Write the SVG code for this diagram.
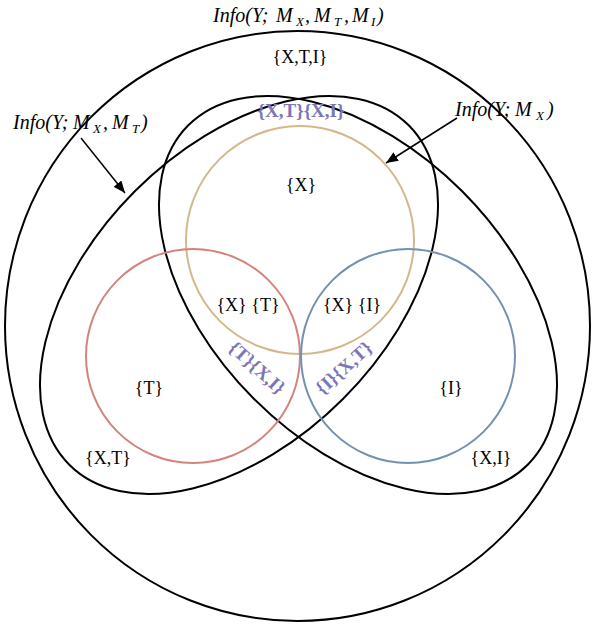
<svg xmlns="http://www.w3.org/2000/svg" width="594" height="627" viewBox="0 0 594 627">
<style>
.blk{fill:none;stroke:#000;stroke-width:2}
.lbl{font-family:"Liberation Serif","Times New Roman",serif;font-size:18px;fill:#000;text-anchor:middle}
.pur{font-family:"Liberation Serif","Times New Roman",serif;font-size:19px;font-weight:bold;fill:#7b76b5;text-anchor:middle}
.math{font-family:"Liberation Serif","Times New Roman",serif;font-size:20px;font-style:italic;fill:#000}
.sub{font-size:13px}
.arr{stroke:#000;stroke-width:1.5;fill:none}
</style>
<defs>
<marker id="ah" viewBox="0 0 12 10" refX="12" refY="5" markerWidth="12" markerHeight="10" markerUnits="userSpaceOnUse" orient="auto">
<path d="M0,0 L12,5 L0,10 z" fill="#000"/>
</marker>
</defs>
<rect width="594" height="627" fill="#fff"/>
<g id="all">
<ellipse class="blk" cx="297.5" cy="326" rx="292.5" ry="295"/>
<text class="math" y="22"><tspan x="213">Info(Y;</tspan><tspan x="276">M</tspan><tspan class="sub" x="296" dy="4">X</tspan><tspan x="305" dy="-4">,</tspan><tspan x="314">M</tspan><tspan class="sub" x="334" dy="4">T</tspan><tspan x="344" dy="-4">,</tspan><tspan x="352">M</tspan><tspan class="sub" x="371" dy="4">I</tspan><tspan x="377" dy="-4">)</tspan></text>
<text class="lbl" x="300" y="63">{X,T,I}</text>
</g>
<g id="xt">
<ellipse class="blk" cx="239" cy="295" rx="240" ry="147" transform="rotate(-45 239 295)"/>
<text class="math" y="129"><tspan x="13">Info(Y;</tspan><tspan x="73">M</tspan><tspan class="sub" x="93" dy="4">X</tspan><tspan x="103" dy="-4">,</tspan><tspan x="112">M</tspan><tspan class="sub" x="132" dy="4">T</tspan><tspan x="141" dy="-4">)</tspan></text>
<text class="lbl" x="108" y="464">{X,T}</text>
</g>
<g id="xi">
<ellipse class="blk" cx="358" cy="295" rx="240" ry="147" transform="rotate(45 358 295)"/>
<text class="lbl" x="491" y="464">{X,I}</text>
</g>
<g id="x">
<circle cx="300" cy="240" r="114" fill="none" stroke="#d2b88c" stroke-width="2"/>
<text class="math" y="116"><tspan x="455">Info(Y;</tspan><tspan x="515">M</tspan><tspan class="sub" x="536" dy="4">X</tspan><tspan x="547" dy="-4">)</tspan></text>
<text class="pur" x="301" y="117">{X,T}{X,I}</text>
<text class="lbl" x="301" y="191">{X}</text>
</g>
<g id="t">
<circle cx="193" cy="356" r="107" fill="none" stroke="#d4837d" stroke-width="2"/>
<text class="lbl" x="149" y="394">{T}</text>
</g>
<g id="i">
<circle cx="408" cy="356" r="107" fill="none" stroke="#7392b0" stroke-width="2"/>
<text class="lbl" x="451" y="394">{I}</text>
</g>
<g id="regions">
<text class="lbl" x="248" y="311">{X} {T}</text>
<text class="lbl" x="352" y="311">{X} {I}</text>
<text class="pur" x="257" y="374" transform="rotate(42 257 368)">{T}{X,I}</text>
<text class="pur" x="344" y="374" transform="rotate(-42 344 368)">{I}{X,T}</text>
</g>
<g id="connectors">
<line class="arr" x1="81" y1="138" x2="125" y2="193" marker-end="url(#ah)"/>
<line class="arr" x1="457" y1="118" x2="386" y2="163" marker-end="url(#ah)"/>
</g>
</svg>
